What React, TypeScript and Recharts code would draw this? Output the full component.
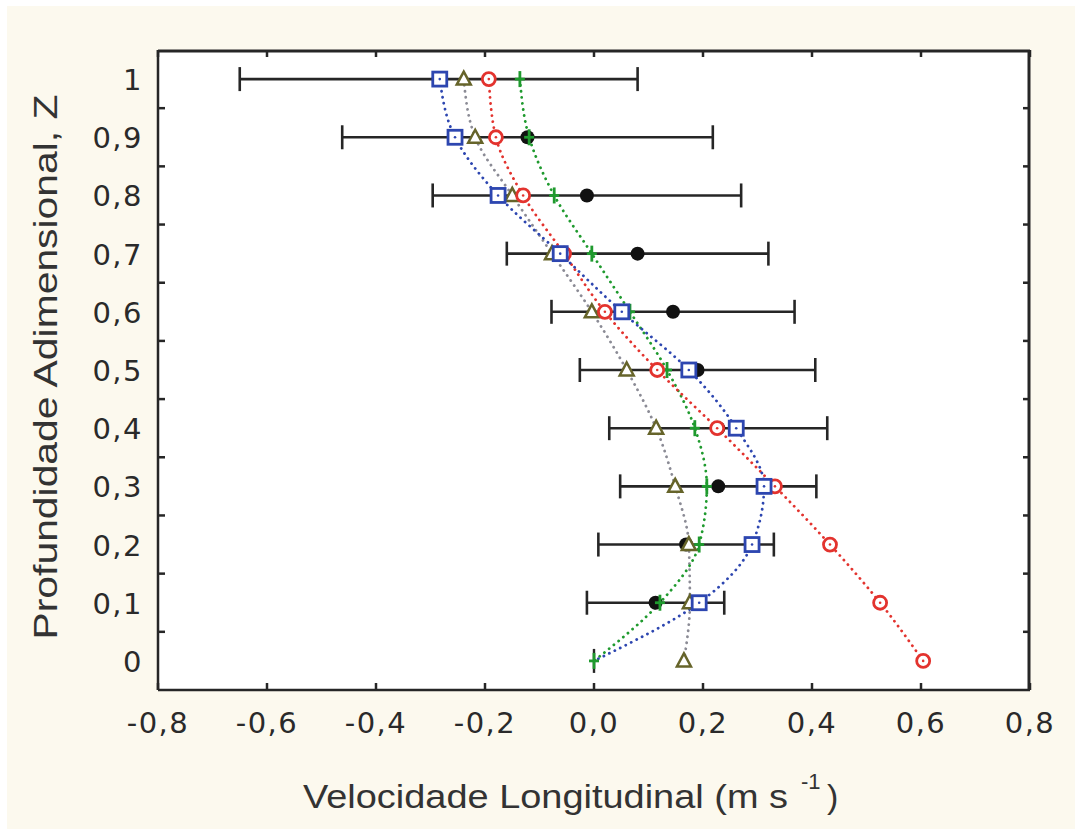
import { ComposedChart, Line, XAxis, YAxis, ErrorBar } from 'recharts';

// profundidade adimensional (Z), de cima para baixo
const depthZ = [1, 0.9, 0.8, 0.7, 0.6, 0.5, 0.4, 0.3, 0.2, 0.1, 0];
const meanVel = [-0.285, -0.122, -0.013, 0.08, 0.145, 0.19, 0.228, 0.228, 0.169, 0.113, 0];
const meanErr = [0.365, 0.34, 0.283, 0.24, 0.223, 0.216, 0.2, 0.18, 0.161, 0.126, 0];
const redVel = [-0.193, -0.18, -0.13, -0.055, 0.02, 0.116, 0.226, 0.332, 0.433, 0.525, 0.604];
const blueVel = [-0.283, -0.255, -0.176, -0.062, 0.051, 0.174, 0.261, 0.312, 0.29, 0.193, 0];
const greenVel = [-0.136, -0.119, -0.073, -0.004, 0.066, 0.134, 0.185, 0.207, 0.193, 0.121, 0];
const oliveVel = [-0.239, -0.218, -0.15, -0.077, -0.004, 0.06, 0.114, 0.149, 0.174, 0.176, 0.165];

const xTicks = [-0.8, -0.6, -0.4, -0.2, 0, 0.2, 0.4, 0.6, 0.8];
const xTickLabels = ['-0,8', '-0,6', '-0,4', '-0,2', '0,0', '0,2', '0,4', '0,6', '0,8'];
const yTicks = [0, 0.1, 0.2, 0.3, 0.4, 0.5, 0.6, 0.7, 0.8, 0.9, 1];
const yTickLabels = ['0', '0,1', '0,2', '0,3', '0,4', '0,5', '0,6', '0,7', '0,8', '0,9', '1'];
const yMarks = [0.05, 0.15, 0.25, 0.35, 0.45, 0.55, 0.65, 0.75, 0.85, 0.95];

const data = depthZ.map((z, i) => ({
  z,
  mean: meanVel[i],
  err: meanErr[i],
  red: redVel[i],
  blue: blueVel[i],
  green: greenVel[i],
  olive: oliveVel[i],
}));

// área do gráfico (px)
const W = 1075;
const H = 829;
const PLOT = { left: 158, top: 50, width: 872, height: 640 };
const X_AXIS_H = 60;
const Y_AXIS_W = 100;
const X_MARGIN = 43;
const Y_MARGIN = 15;
const MARK = 7;
const FRAME = 2.5;

const INK = '#262626';
const RED = '#e3332e';
const BLUE = '#2d46b0';
const GREEN = '#1f9a2e';
const OLIVE = '#66642a';
const tickFont = { fontFamily: 'DejaVu Sans', fontSize: 29, fill: '#2a2a2a', letterSpacing: 1.5 };

const near = (a: number, b: number) => Math.abs(a - b) < 1e-6;

// rótulo embaixo + marcas internas embaixo e no topo (+ borda superior)
const BottomTick = ({ x, y, payload }: any) => {
  const i = xTicks.findIndex((t) => near(t, payload.value));
  const bottom = y - X_MARGIN;
  const top = bottom - PLOT.height;
  return (
    <g>
      {i === 0 && (
        <line x1={x} x2={x + PLOT.width} y1={top + 1} y2={top + 1} stroke={INK} strokeWidth={3} />
      )}
      <line x1={x} x2={x} y1={bottom} y2={bottom - MARK} stroke={INK} strokeWidth={FRAME} />
      <line x1={x} x2={x} y1={top} y2={top + MARK} stroke={INK} strokeWidth={FRAME} />
      <text x={x} y={y} textAnchor="middle" {...tickFont}>{xTickLabels[i]}</text>
    </g>
  );
};

// rótulos nos décimos, marcas internas (esq. e dir.) nos meios (+ borda direita)
const LeftTick = ({ x, y, payload }: any) => {
  const i = yTicks.findIndex((t) => near(t, payload.value));
  const left = x + Y_MARGIN;
  const right = left + PLOT.width;
  if (i >= 0) {
    return (
      <g>
        {i === 0 && (
          <line x1={right - 1} x2={right - 1} y1={y + 29} y2={y + 29 - PLOT.height} stroke={INK} strokeWidth={3} />
        )}
        <text x={x} y={y + 11} textAnchor="end" {...tickFont}>{yTickLabels[i]}</text>
      </g>
    );
  }
  return (
    <g>
      <line x1={left} x2={left + MARK} y1={y} y2={y} stroke={INK} strokeWidth={FRAME} />
      <line x1={right} x2={right - MARK} y1={y} y2={y} stroke={INK} strokeWidth={FRAME} />
    </g>
  );
};

const BlackDot = ({ cx, cy, payload }: any) => {
  if (cx == null || payload.err === 0) return <g />;
  return <circle cx={cx} cy={cy} r={7} fill="#111" />;
};

const RedDot = ({ cx, cy }: any) => (
  <g>
    <circle cx={cx} cy={cy} r={6.5} fill="#fff" stroke={RED} strokeWidth={2.8} />
    <circle cx={cx} cy={cy} r={1.3} fill={RED} />
  </g>
);

// na superfície (Z = 0) o quadrado azul fica escondido sob a cruz verde
const BlueDot = ({ cx, cy, payload }: any) => {
  if (payload.z === 0) return <g />;
  return (
    <g>
      <rect x={cx - 7} y={cy - 7} width={14} height={14} fill="#fff" stroke={BLUE} strokeWidth={2.8} />
      <circle cx={cx} cy={cy} r={1.3} fill={BLUE} />
    </g>
  );
};

const GreenDot = ({ cx, cy, payload }: any) => (
  <g>
    {payload.z === 0 && <line x1={cx} x2={cx} y1={cy - 12} y2={cy + 12} stroke={INK} strokeWidth={2.4} />}
    <line x1={cx} x2={cx} y1={cy - 8} y2={cy + 8} stroke={GREEN} strokeWidth={2.8} />
    <line x1={cx - 5} x2={cx + 5} y1={cy} y2={cy} stroke={GREEN} strokeWidth={2.8} />
  </g>
);

const OliveDot = ({ cx, cy }: any) => (
  <path
    d={`M${cx},${cy - 7.5} L${cx + 7},${cy + 5.5} L${cx - 7},${cy + 5.5} Z`}
    fill="#fff"
    stroke={OLIVE}
    strokeWidth={2.5}
  />
);

const dotted = { strokeDasharray: '0.1 6', strokeLinecap: 'round' as const, strokeWidth: 2.8 };

export default function App() {
  return (
    <div style={{ position: 'absolute', left: 0, top: 0, width: W, height: H, background: '#fff' }}>
      <div style={{ position: 'absolute', left: 7, top: 6, right: 0, bottom: 0, background: '#fcf9ee' }} />
      <div
        style={{
          position: 'absolute',
          left: PLOT.left,
          top: PLOT.top,
          width: PLOT.width,
          height: PLOT.height,
          background: '#fff',
        }}
      />
      <div style={{ position: 'absolute', left: 0, top: 0 }}>
        <ComposedChart
          width={W}
          height={H}
          data={data}
          layout="vertical"
          margin={{
            top: PLOT.top,
            right: W - PLOT.left - PLOT.width,
            left: PLOT.left - Y_AXIS_W,
            bottom: H - PLOT.top - PLOT.height - X_AXIS_H,
          }}
        >
          <XAxis
            type="number"
            domain={[-0.8, 0.8]}
            ticks={xTicks}
            interval={0}
            allowDataOverflow
            height={X_AXIS_H}
            tickSize={0}
            tickMargin={X_MARGIN}
            tick={BottomTick}
            axisLine={{ stroke: INK, strokeWidth: FRAME }}
          />
          <YAxis
            type="number"
            dataKey="z"
            domain={[-0.05, 1.05]}
            reversed
            ticks={[...yTicks, ...yMarks].sort((a, b) => a - b)}
            interval={0}
            allowDataOverflow
            width={Y_AXIS_W}
            tickSize={0}
            tickMargin={Y_MARGIN}
            tick={LeftTick}
            axisLine={{ stroke: INK, strokeWidth: FRAME }}
          />
          <Line dataKey="mean" stroke="none" dot={BlackDot} activeDot={false} isAnimationActive={false}>
            <ErrorBar dataKey="err" direction="x" width={12} stroke={INK} strokeWidth={2.6} isAnimationActive={false} />
          </Line>
          <Line type="monotone" dataKey="olive" stroke="#8b8b95" {...dotted} dot={OliveDot} activeDot={false} isAnimationActive={false} />
          <Line type="monotone" dataKey="green" stroke={GREEN} {...dotted} dot={GreenDot} activeDot={false} isAnimationActive={false} />
          <Line type="monotone" dataKey="red" stroke={RED} {...dotted} dot={RedDot} activeDot={false} isAnimationActive={false} />
          <Line type="monotone" dataKey="blue" stroke={BLUE} {...dotted} dot={BlueDot} activeDot={false} isAnimationActive={false} />
        </ComposedChart>
      </div>
      <svg width={W} height={H} style={{ position: 'absolute', left: 0, top: 0, pointerEvents: 'none' }}>
        <g fontFamily="Liberation Sans" fill="#333">
          <text x={303} y={808} fontSize={34} textLength={485} lengthAdjust="spacingAndGlyphs">
            Velocidade Longitudinal (m s
          </text>
          <text x={801} y={789} fontSize={22}>-1</text>
          <text x={827} y={808} fontSize={34}>)</text>
          <text
            x={0}
            y={0}
            fontSize={34}
            textAnchor="middle"
            textLength={545}
            lengthAdjust="spacingAndGlyphs"
            transform="translate(57,367) rotate(-90)"
          >
            Profundidade Adimensional, Z
          </text>
        </g>
      </svg>
    </div>
  );
}
